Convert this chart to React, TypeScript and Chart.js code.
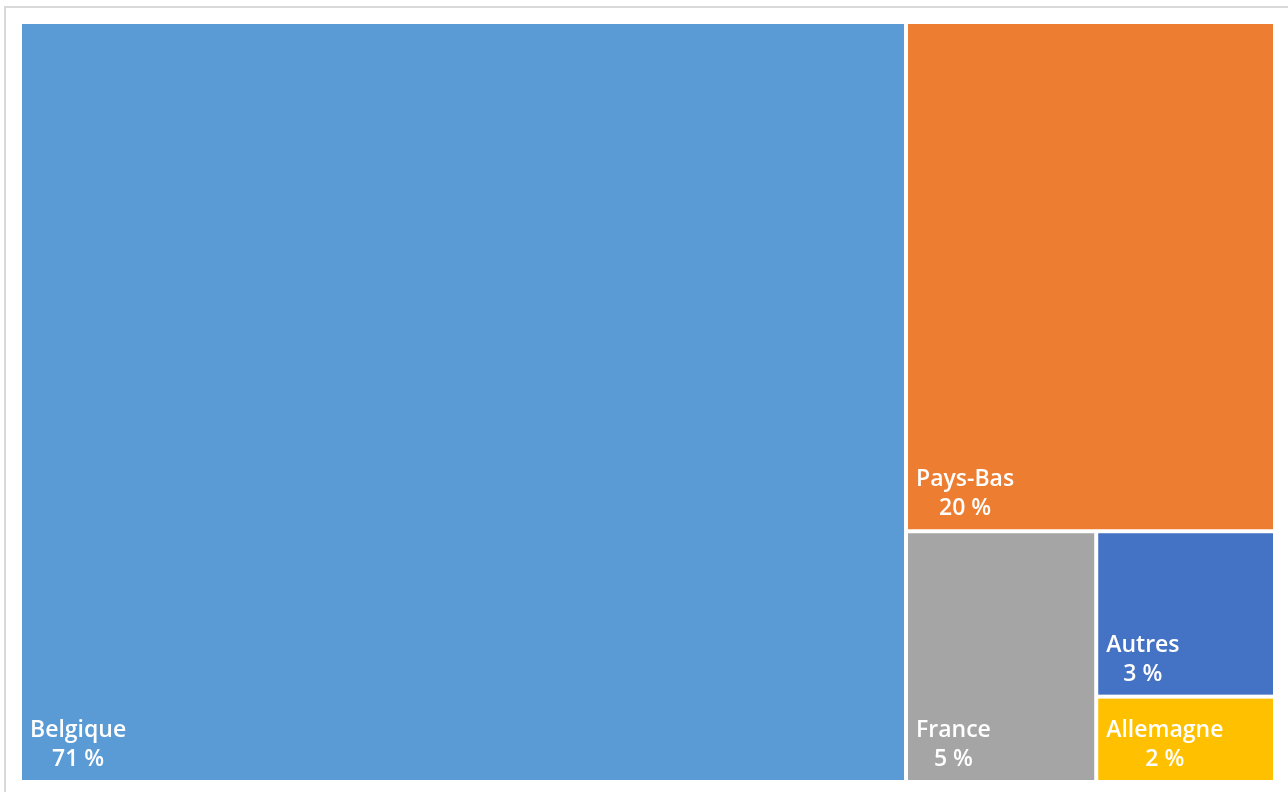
import React, { useEffect, useRef } from "react";
import { Chart, registerables } from "chart.js";

Chart.register(...registerables);

const categories = ["Belgique", "Pays-Bas", "France", "Autres", "Allemagne"];
const shares = [70.6, 19.7, 5.0, 3.1, 1.6];
const colors = ["#5B9BD5", "#ED7D31", "#A5A5A5", "#4472C4", "#FFC000"];

type Cell = { i: number; x0: number; y0: number; x1: number; y1: number };

function squarify(values: number[], kx: number, ky: number): Cell[] {
  // data space 0..100 on both axes; kx/ky convert data units to pixels
  const items = values.map((v, i) => ({ v, i })).sort((a, b) => b.v - a.v);
  const total = items.reduce((s, d) => s + d.v, 0);
  const areaPer = (100 * kx * 100 * ky) / total;
  let rx = 0, ry = 0, rw = 100, rh = 100;
  const out: Cell[] = [];
  let rest = items.slice();
  const worst = (row: { v: number }[], side: number) => {
    const s = row.reduce((a, d) => a + d.v, 0) * areaPer;
    const thick = s / side;
    let w = 0;
    for (const r of row) {
      const len = (r.v * areaPer) / thick;
      w = Math.max(w, thick / len, len / thick);
    }
    return w;
  };
  while (rest.length) {
    const wPx = rw * kx, hPx = rh * ky;
    const side = Math.min(wPx, hPx);
    let row = [rest[0]];
    let k = 1;
    while (k < rest.length) {
      const cand = row.concat([rest[k]]);
      if (worst(cand, side) <= worst(row, side)) { row = cand; k++; } else break;
    }
    rest = rest.slice(row.length);
    const s = row.reduce((a, d) => a + d.v, 0) * areaPer;
    const thickPx = s / side;
    if (wPx >= hPx) {
      const tw = thickPx / kx;
      let cy = ry;
      for (const r of row) {
        const hh = (r.v * areaPer) / thickPx / ky;
        out.push({ i: r.i, x0: rx, y0: cy, x1: rx + tw, y1: cy + hh });
        cy += hh;
      }
      rx += tw; rw -= tw;
    } else {
      const th = thickPx / ky;
      let cx = rx;
      for (const r of row) {
        const ww = (r.v * areaPer) / thickPx / kx;
        out.push({ i: r.i, x0: cx, y0: ry, x1: cx + ww, y1: ry + th });
        cx += ww;
      }
      ry += th; rh -= th;
    }
  }
  return out;
}

const treemapPlugin = {
  id: "treemap",
  afterDatasetsDraw(chart: any) {
    const { ctx, chartArea, scales } = chart;
    const xs = scales.x, ys = scales.y;
    const kx = (chartArea.right - chartArea.left) / 100;
    const ky = (chartArea.bottom - chartArea.top) / 100;
    const cells = squarify(shares, kx, ky);
    const gap = 2;
    ctx.save();
    for (const c of cells) {
      const l = xs.getPixelForValue(c.x0) + gap;
      const r = xs.getPixelForValue(c.x1) - gap;
      const t = ys.getPixelForValue(c.y0) + gap;
      const b = ys.getPixelForValue(c.y1) - gap;
      ctx.fillStyle = colors[c.i];
      ctx.fillRect(l, t, r - l, b - t);
      ctx.font = "600 23px 'Open Sans', sans-serif";
      ctx.fillStyle = "#ffffff";
      ctx.textBaseline = "alphabetic";
      const name = categories[c.i];
      const pct = Math.round(shares[c.i]) + " %";
      const nw = ctx.measureText(name).width;
      const cx = l + 8 + nw / 2;
      ctx.textAlign = "center";
      ctx.fillText(name, cx, b - 43);
      ctx.fillText(pct, cx, b - 14);
    }
    ctx.restore();
  },
};

export default function App() {
  const ref = useRef<HTMLCanvasElement>(null);
  useEffect(() => {
    document.body.style.margin = "0";
    document.body.style.overflow = "hidden";
    const chart = new Chart(ref.current!, {
      type: "scatter",
      data: { datasets: [{ data: [], label: "share" }] },
      options: {
        animation: false,
        responsive: false,
        events: [],
        layout: { padding: { left: 20, top: 22, right: 13, bottom: 10 } },
        plugins: { legend: { display: false }, tooltip: { enabled: false } },
        scales: {
          x: { type: "linear", min: 0, max: 100, display: false },
          y: { type: "linear", min: 0, max: 100, reverse: true, display: false },
        },
      },
      plugins: [treemapPlugin],
    });
    return () => chart.destroy();
  }, []);
  return (
    <div style={{ position: "relative", width: 1288, height: 792, overflow: "hidden", background: "#fff" }}>
      <div
        style={{
          position: "absolute",
          left: 4,
          top: 6,
          width: 1300,
          height: 800,
          borderTop: "2px solid #d9d9d9",
          borderLeft: "2px solid #d9d9d9",
        }}
      />
      <canvas ref={ref} width={1288} height={792} style={{ position: "absolute", left: 0, top: 0, width: 1288, height: 792 }} />
    </div>
  );
}
